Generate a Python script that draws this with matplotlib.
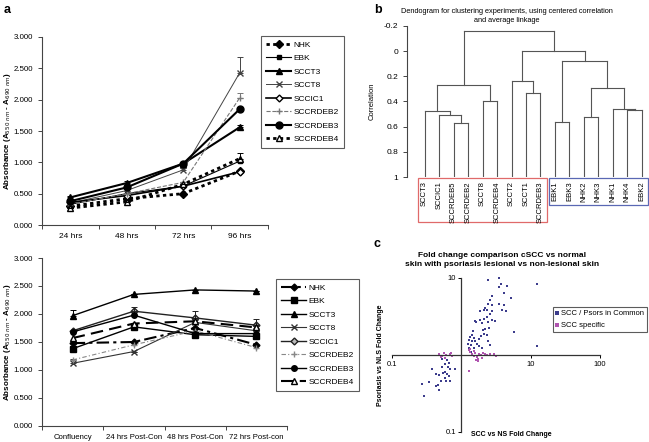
import numpy as np
import matplotlib.pyplot as plt
from matplotlib.patches import Rectangle
import matplotlib.transforms as mtransforms

plt.rcParams['font.family'] = ['Liberation Sans', 'DejaVu Sans']

# ---- panel a, top: growth curves ----
top_days = ['24 hrs', '48 hrs', '72 hrs', '96 hrs']
top_vals = {
    'NHK':      [0.30, 0.42, 0.50, 0.86],
    'EBK':      [0.33, 0.50, 0.62, 1.02],
    'SCCT3':    [0.44, 0.67, 0.98, 1.56],
    'SCCT8':    [0.35, 0.55, 0.88, 2.43],
    'SCCIC1':   [0.36, 0.47, 0.62, 0.85],
    'SCCRDEB2': [0.33, 0.50, 0.68, 2.03],
    'SCCRDEB3': [0.38, 0.60, 0.98, 1.85],
    'SCCRDEB4': [0.27, 0.37, 0.65, 1.06],
}
top_err = {
    'SCCT8':    [0.0, 0.0, 0.03, 0.25],
    'SCCRDEB2': [0.0, 0.0, 0.0, 0.07],
    'SCCRDEB4': [0.0, 0.0, 0.0, 0.09],
    'SCCT3':    [0.02, 0.03, 0.03, 0.04],
}

# ---- panel a, bottom: post-confluence ----
bot_days = ['Confluency', '24 hrs Post-Con', '48 hrs Post-Con', '72 hrs Post-con']
bot_vals = {
    'NHK':      [1.48, 1.50, 1.75, 1.45],
    'EBK':      [1.38, 1.77, 1.63, 1.60],
    'SCCT3':    [1.97, 2.35, 2.43, 2.41],
    'SCCT8':    [1.12, 1.33, 1.85, 1.70],
    'SCCIC1':   [1.70, 2.05, 1.93, 1.80],
    'SCCRDEB2': [1.18, 1.45, 1.70, 1.40],
    'SCCRDEB3': [1.68, 1.98, 1.65, 1.65],
    'SCCRDEB4': [1.57, 1.83, 1.87, 1.76],
}
bot_err = {
    'SCCT3':  [0.10, 0.0, 0.0, 0.0],
    'SCCIC1': [0.0, 0.07, 0.12, 0.11],
    'SCCT8':  [0.08, 0.0, 0.0, 0.0],
    'EBK':    [0.05, 0.05, 0.05, 0.05],
}

# ---- panel b: dendrogram ----
leaves = ['SCCT3', 'SCCIC1', 'SCCRDEB5', 'SCCRDEB2', 'SCCT8', 'SCCRDEB4', 'SCCT2',
          'SCCT1', 'SCCRDEB3', 'EBK1', 'EBK3', 'NHK2', 'NHK3', 'NHK1', 'NHK4', 'EBK2']
merges = [
    ('SCCRDEB5', 'SCCRDEB2', 0.572),
    ('SCCIC1', 'c0', 0.508),
    ('SCCT3', 'c1', 0.479),
    ('SCCT8', 'SCCRDEB4', 0.397),
    ('c2', 'c3', 0.265),
    ('SCCT1', 'SCCRDEB3', 0.331),
    ('SCCT2', 'c5', 0.241),
    ('EBK1', 'EBK3', 0.565),
    ('NHK2', 'NHK3', 0.527),
    ('NHK4', 'EBK2', 0.468),
    ('NHK1', 'c9', 0.462),
    ('c8', 'c10', 0.294),
    ('c7', 'c11', 0.080),
    ('c6', 'c12', -0.004),
    ('c4', 'c13', -0.160),
]

# ---- panel c: fold change scatter ----
common_x = [2.40, 3.53, 3.73, 4.49, 3.49, 4.16, 5.18, 2.80, 2.60, 2.40, 2.20, 2.13, 1.87,
            2.33, 2.80, 3.53, 4.16, 3.81, 4.39, 2.80, 2.60, 2.33, 2.15, 1.87, 1.64, 1.55,
            1.97, 2.40, 2.80, 3.06, 2.51, 2.20, 2.02, 2.11, 2.33, 1.93, 1.47, 1.42, 1.34,
            1.50, 1.58, 1.42, 1.27, 1.23, 1.36, 1.50, 1.67, 1.81, 2.46, 2.60, 5.78, 12.5,
            12.2, 1.77, 1.30, 1.97, 1.39,
            0.518, 0.624, 0.659, 0.578, 0.530, 0.638, 0.697, 0.803, 0.591, 0.547, 0.624,
            0.425, 0.381, 0.474, 0.659, 0.578, 0.501, 0.425, 0.464, 0.341, 0.268, 0.474,
            0.290, 0.697, 0.604]
common_y = [9.5, 9.9, 8.45, 7.90, 7.55, 6.45, 5.45, 5.90, 5.15, 4.56, 4.12, 3.85, 3.76,
            3.85, 4.45, 4.61, 4.45, 3.85, 3.72, 3.68, 3.36, 3.11, 2.94, 2.87, 2.69, 2.78,
            2.63, 2.69, 2.84, 2.75, 2.27, 2.19, 2.10, 1.88, 1.81, 1.79, 2.03, 1.81, 1.71,
            1.68, 1.53, 1.50, 1.58, 1.40, 1.34, 1.25, 1.40, 1.62, 1.50, 1.34, 1.98, 8.26,
            1.29, 1.29, 1.22, 1.22, 1.09,
            0.894, 0.855, 0.781, 0.764, 0.698, 0.698, 0.660, 0.660, 0.610, 0.583, 0.570,
            0.570, 0.660, 0.545, 0.527, 0.499, 0.456, 0.398, 0.407, 0.445, 0.426, 0.348,
            0.294, 0.456, 0.456]
spec_x = [0.474, 0.518, 0.560, 0.604, 0.681, 0.736, 0.501, 0.578, 0.720, 1.27, 1.34, 1.42,
          1.50, 1.58, 1.67, 1.73, 1.81, 1.93, 2.08, 2.20, 2.33, 2.60, 2.99, 3.13, 1.73,
          1.50, 1.97, 1.27, 1.62, 1.34]
spec_y = [1.03, 0.978, 1.05, 1.0, 1.03, 0.978, 0.945, 0.924, 1.07, 1.16, 1.09, 1.03,
          0.978, 1.07, 0.956, 0.894, 1.02, 1.0, 1.06, 1.03, 1.0, 1.03, 1.03, 0.978, 0.826,
          1.12, 0.924, 0.624, 0.855, 1.2]

W, H = 649, 442
fig = plt.figure(figsize=(W / 100, H / 100), dpi=100)


def rect(x0, y0, x1, y1):
    # pixel box -> figure fraction
    return [x0 / W, 1 - y1 / H, (x1 - x0) / W, (y1 - y0) / H]


def fx(x):
    return x / W


def fy(y):
    return 1 - y / H


top_style = {
    'NHK':      dict(color='k', ls=(0, (1.2, 1.2)), lw=2.0, marker='D', ms=4, mfc='k'),
    'EBK':      dict(color='k', ls='-', lw=0.8, marker='s', ms=3, mfc='k'),
    'SCCT3':    dict(color='k', ls='-', lw=1.5, marker='^', ms=5, mfc='k'),
    'SCCT8':    dict(color='#444444', ls='-', lw=0.7, marker='x', ms=4, mfc='none'),
    'SCCIC1':   dict(color='k', ls='-', lw=1.2, marker='D', ms=3.5, mfc='white'),
    'SCCRDEB2': dict(color='#777777', ls='--', lw=0.8, marker='+', ms=5, mfc='none'),
    'SCCRDEB3': dict(color='k', ls='-', lw=1.5, marker='o', ms=5, mfc='k'),
    'SCCRDEB4': dict(color='k', ls=(0, (1.2, 1.2)), lw=2.0, marker='^', ms=5, mfc='white'),
}
bot_style = {
    'NHK':      dict(color='k', ls=(0, (6, 2, 1.5, 2)), lw=1.5, marker='D', ms=3.5, mfc='k'),
    'EBK':      dict(color='k', ls='-', lw=1.0, marker='s', ms=4, mfc='k'),
    'SCCT3':    dict(color='k', ls='-', lw=1.0, marker='^', ms=5, mfc='k'),
    'SCCT8':    dict(color='#333333', ls='-', lw=0.8, marker='x', ms=5, mfc='none'),
    'SCCIC1':   dict(color='#222222', ls='-', lw=1.0, marker='D', ms=3.5, mfc='#bbbbbb'),
    'SCCRDEB2': dict(color='#888888', ls=(0, (4, 2, 1, 2)), lw=0.8, marker='+', ms=4, mfc='none'),
    'SCCRDEB3': dict(color='k', ls='-', lw=1.0, marker='o', ms=4, mfc='k'),
    'SCCRDEB4': dict(color='k', ls=(0, (6, 3)), lw=1.5, marker='^', ms=4, mfc='white'),
}


def line_panel(ax, days, vals, errs, style, ylab_y, leg_anchor, xfs):
    xs = np.arange(len(days))
    for name, v in vals.items():
        st = style[name]
        ax.plot(xs, v, label=name, **st)
        if name in errs:
            e = np.array(errs[name])
            ax.errorbar(xs, v, yerr=[np.zeros_like(e), e], fmt='none', ecolor=st['color'],
                        elinewidth=0.7, capsize=2, capthick=0.7)
    ax.set_xlim(-0.5, len(days) - 0.5)
    ax.set_ylim(0, 3)
    ax.set_yticks(np.arange(0, 3.01, 0.5))
    ax.set_yticklabels(['%.3f' % t for t in np.arange(0, 3.01, 0.5)])
    ax.set_xticks(xs)
    ax.set_xticklabels(days)
    ax.set_xticks(np.arange(-0.5, len(days)), minor=True)
    ax.tick_params(axis='x', which='major', length=0, labelsize=xfs, pad=6)
    ax.tick_params(axis='x', which='minor', length=3, width=0.7, color='#444444')
    ax.tick_params(axis='y', length=3, width=0.7, labelsize=5.7, color='#444444')
    for s in ['top', 'right']:
        ax.spines[s].set_visible(False)
    for s in ['left', 'bottom']:
        ax.spines[s].set_color('#444444')
        ax.spines[s].set_linewidth(0.8)
    fig.text(fx(7.5), fy(ylab_y), 'Absorbance (A$_{550\\ nm}$ - A$_{690\\ nm}$)', fontsize=5.8,
             fontweight='bold', rotation=90, ha='center', va='center')
    leg = ax.legend(loc='upper left', bbox_to_anchor=leg_anchor, bbox_transform=fig.transFigure,
                    fontsize=6, frameon=True, fancybox=False, edgecolor='#333333',
                    labelspacing=0.68, handlelength=3.0, borderpad=0.6, handletextpad=0.3,
                    borderaxespad=0)
    leg.get_frame().set_linewidth(0.8)


ax1 = fig.add_axes(rect(42, 37, 268, 225))
line_panel(ax1, top_days, top_vals, top_err, top_style, 131, (fx(261), fy(36)), 6)
ax2 = fig.add_axes(rect(42, 258, 287, 426))
line_panel(ax2, bot_days, bot_vals, bot_err, bot_style, 342, (fx(276), fy(279)), 5.6)

fig.text(fx(4), fy(4), 'a', fontsize=9, fontweight='bold', va='top')

# ---- dendrogram ----
axb = fig.add_axes(rect(407, 26, 648, 177))
pos = {name: i for i, name in enumerate(leaves)}
hgt = {name: 1.0 for name in leaves}
dcol = '#555555'
for i, (a, b, h) in enumerate(merges):
    for c in (a, b):
        axb.plot([pos[c], pos[c]], [hgt[c], h], color=dcol, lw=0.8)
    axb.plot([pos[a], pos[b]], [h, h], color=dcol, lw=0.8)
    pos['c%d' % i] = (pos[a] + pos[b]) / 2
    hgt['c%d' % i] = h
axb.set_xlim(-1.22, 15.43)
axb.set_ylim(1.0, -0.2)
axb.set_yticks([-0.2, 0, 0.2, 0.4, 0.6, 0.8, 1])
axb.set_yticklabels(['-0.2', '0', '0.2', '0.4', '0.6', '0.8', '1'])
axb.tick_params(axis='y', length=3, width=0.7, labelsize=6, color='#444444')
axb.set_xticks([])
for s in ['top', 'right', 'bottom']:
    axb.spines[s].set_visible(False)
axb.spines['left'].set_color('#444444')
axb.spines['left'].set_linewidth(0.8)
axb.set_ylabel('Correlation', fontsize=5.5, labelpad=6)
trb = mtransforms.blended_transform_factory(axb.transData, axb.transAxes)
for i, name in enumerate(leaves):
    axb.text(i, -0.03, name, rotation=90, ha='center', va='top', fontsize=5.5,
             transform=trb, clip_on=False)
axb.add_patch(Rectangle((-0.46, -0.298), 8.91, 0.291, transform=trb, fill=False,
                        edgecolor='#e06a6a', lw=0.9, clip_on=False))
axb.add_patch(Rectangle((8.58, -0.185), 6.85, 0.178, transform=trb, fill=False,
                        edgecolor='#5a68b4', lw=0.9, clip_on=False))
fig.text(fx(507), fy(8), 'Dendogram for clustering experiments, using centered correlation\n'
         'and average linkage', fontsize=5.3, ha='center', va='top', linespacing=1.3)
fig.text(fx(374), fy(4), 'b', fontsize=9, fontweight='bold', va='top')

# ---- scatter ----
axc = fig.add_axes(rect(392, 278, 600, 432))
axc.scatter(common_x, common_y, s=3, marker='s', color='#3c3c8c', lw=0,
            label='SCC / Psors in Common', clip_on=False)
axc.scatter(spec_x, spec_y, s=3, marker='s', color='#b055b0', lw=0,
            label='SCC specific', clip_on=False)
axc.set_xscale('log')
axc.set_yscale('log')
axc.set_xlim(0.1, 100)
axc.set_ylim(0.1, 10)
axc.spines['left'].set_position(('data', 1))
axc.spines['bottom'].set_position(('data', 1))
for s in ['top', 'right']:
    axc.spines[s].set_visible(False)
for s in ['left', 'bottom']:
    axc.spines[s].set_color('#333333')
    axc.spines[s].set_linewidth(0.9)
axc.minorticks_off()
axc.set_xticks([0.1, 10, 100])
axc.set_xticklabels(['0.1', '10', '100'])
axc.set_yticks([0.1, 10])
axc.set_yticklabels(['0.1', '10'])
axc.tick_params(length=2, width=0.7, labelsize=5.5, pad=2)
leg = axc.legend(loc='upper left', bbox_to_anchor=(fx(553), fy(307)), bbox_transform=fig.transFigure,
                 fontsize=5.5, frameon=True, fancybox=False, edgecolor='#333333',
                 markerscale=1.5, handlelength=0.3, handletextpad=0.3, labelspacing=0.5,
                 borderpad=0.4, borderaxespad=0)
leg.get_frame().set_linewidth(0.8)
fig.text(fx(502), fy(252), 'Fold change comparison cSCC vs normal\n'
         'skin with psoriasis lesional vs non-lesional skin',
         fontsize=6, fontweight='bold', ha='center', va='top', linespacing=1.4)
fig.text(fx(471), fy(434), 'SCC vs NS Fold Change', fontsize=5, fontweight='bold', va='center')
fig.text(fx(380), fy(355), 'Psoriasis vs NLS Fold Change', fontsize=5, fontweight='bold',
         rotation=90, ha='center', va='center')
fig.text(fx(374), fy(238), 'c', fontsize=9, fontweight='bold', va='top')

fig.savefig('out.png', dpi=100)
